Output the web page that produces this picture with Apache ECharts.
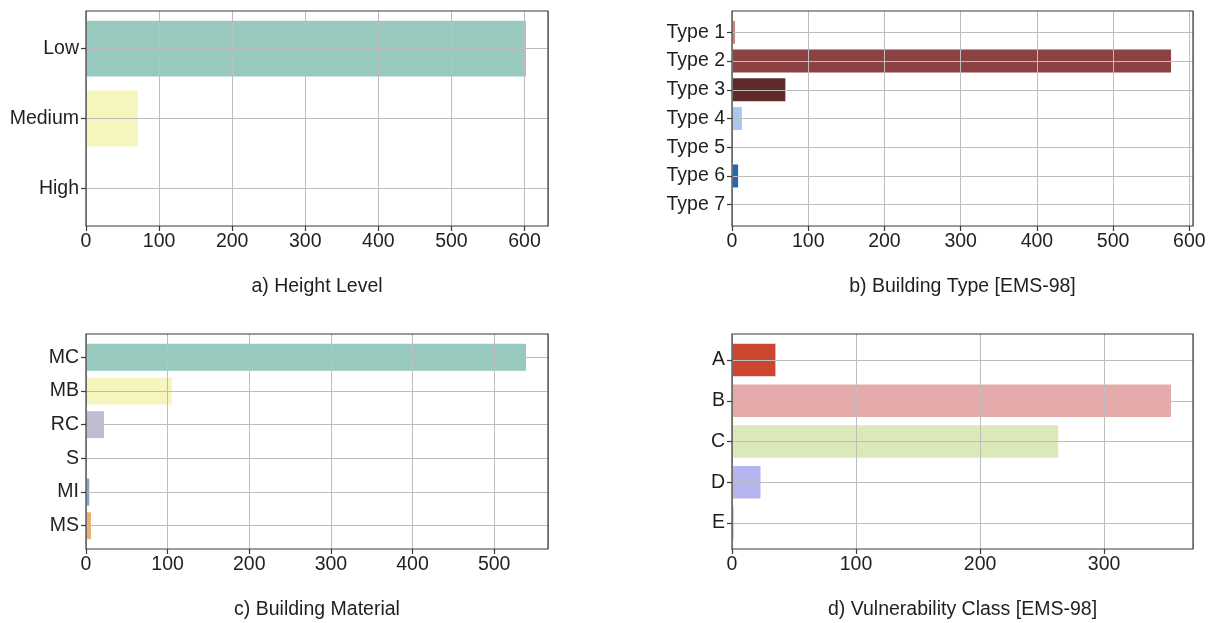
<!DOCTYPE html>
<html>
<head>
<meta charset="utf-8">
<script src="https://cdn.jsdelivr.net/npm/echarts@6/dist/echarts.min.js"></script>
<style>
html,body{margin:0;padding:0;background:#ffffff;}
#chart{width:1211px;height:623px;}
</style>
</head>
<body>
<div id="chart"></div>
<script>
// ---- data ----
const heightCats = ['Low', 'Medium', 'High'];
const heightVals = [602, 71, 1];
const heightColors = ['#97c9bf', '#f5f5bd', '#5c5a80'];

const typeCats = ['Type 1', 'Type 2', 'Type 3', 'Type 4', 'Type 5', 'Type 6', 'Type 7'];
const typeVals = [4, 576, 70, 13, 1, 8, 0];
const typeColors = ['#d4807e', '#8c4242', '#5f2a2a', '#a9c8f0', '#3a6ab8', '#2266b8', '#1f3f7f'];

const materialCats = ['MC', 'MB', 'RC', 'S', 'MI', 'MS'];
const materialVals = [539, 105, 22, 1, 4, 6];
const materialColors = ['#97c9bf', '#f5f5bd', '#c0bcd6', '#c0605a', '#7ea6c8', '#ebae6c'];

const vulnCats = ['A', 'B', 'C', 'D', 'E'];
const vulnVals = [35, 354, 263, 23, 1];
const vulnColors = ['#cd4630', '#e5abab', '#dbe9b8', '#b7b5ee', '#3b3bb0'];

const titles = ['a) Height Level', 'b) Building Type [EMS-98]', 'c) Building Material', 'd) Vulnerability Class [EMS-98]'];
const tickStep = 100;

// ---- layout ----
const boxes = [
  {left: 86, top: 11, width: 462, height: 215},
  {left: 732, top: 11, width: 461, height: 215},
  {left: 86, top: 334, width: 462, height: 215},
  {left: 732, top: 334, width: 461, height: 215}
];
const panels = [
  {cats: heightCats, vals: heightVals, colors: heightColors},
  {cats: typeCats, vals: typeVals, colors: typeColors},
  {cats: materialCats, vals: materialVals, colors: materialColors},
  {cats: vulnCats, vals: vulnVals, colors: vulnColors}
];

const textColor = '#1f1f1f';
const frameColor = '#3a3a3a';
const gridColor = '#bdbdbd';
const fontFamily = '"Liberation Sans", Arial, sans-serif';
const tickFont = 19.5;
const titleFont = 19.5;

const grid = [], xAxis = [], yAxis = [], series = [], title = [];

panels.forEach((p, i) => {
  const b = boxes[i];
  const n = p.cats.length;
  // matplotlib-like category margins (5% of bar span)
  const span = (n - 0.2) * 1.1;
  const m = 0.05 * (n - 0.2);
  const inset = (m - 0.1) / span * b.height;
  const xMax = Math.max(...p.vals) * 1.05;

  grid.push({left: b.left, top: b.top, width: b.width, height: b.height,
    show: true, borderColor: frameColor, borderWidth: 1.2, backgroundColor: 'transparent',
    z: 10, containLabel: false, outerBoundsMode: 'none'});
  grid.push({left: b.left, top: b.top + inset, width: b.width, height: b.height - 2 * inset,
    show: false, containLabel: false, outerBoundsMode: 'none'});

  xAxis.push({
    gridIndex: 2 * i, type: 'value', min: 0, max: xMax, interval: tickStep, z: 3,
    axisLine: {show: false},
    axisTick: {show: true, length: 5, lineStyle: {color: frameColor, width: 1.2}},
    axisLabel: {show: true, fontSize: tickFont, color: textColor, fontFamily: fontFamily, margin: 6,
      showMaxLabel: false, formatter: v => (Math.abs(v % tickStep) < 1e-6 ? String(v) : '')},
    splitLine: {show: true, lineStyle: {color: gridColor, width: 1}}
  });
  xAxis.push({gridIndex: 2 * i + 1, type: 'value', min: 0, max: xMax, show: false});

  yAxis.push({gridIndex: 2 * i, type: 'value', min: 0, max: 1, show: false});
  yAxis.push({
    gridIndex: 2 * i + 1, type: 'category', data: p.cats, inverse: true, z: 3,
    axisLine: {show: false},
    axisTick: {show: true, alignWithLabel: true, length: 5, lineStyle: {color: frameColor, width: 1.2}},
    axisLabel: {show: true, fontSize: tickFont, color: textColor, fontFamily: fontFamily, margin: 7},
    splitLine: {show: true, alignWithLabel: true, lineStyle: {color: gridColor, width: 1}}
  });

  series.push({
    type: 'bar', xAxisIndex: 2 * i + 1, yAxisIndex: 2 * i + 1,
    barCategoryGap: '20%', z: 2,
    data: p.vals.map((v, k) => ({value: v, itemStyle: {color: p.colors[k]}})),
    silent: true, animation: false
  });

  title.push({
    text: titles[i], left: b.left + b.width / 2, top: b.top + b.height + 51,
    textAlign: 'center', padding: 0,
    textStyle: {fontSize: titleFont, fontWeight: 'normal', color: textColor, fontFamily: fontFamily}
  });
});

const chart = echarts.init(document.getElementById('chart'), null, {renderer: 'canvas'});
chart.setOption({
  backgroundColor: '#ffffff',
  animation: false,
  title: title,
  grid: grid,
  xAxis: xAxis,
  yAxis: yAxis,
  series: series
});
</script>
</body>
</html>
